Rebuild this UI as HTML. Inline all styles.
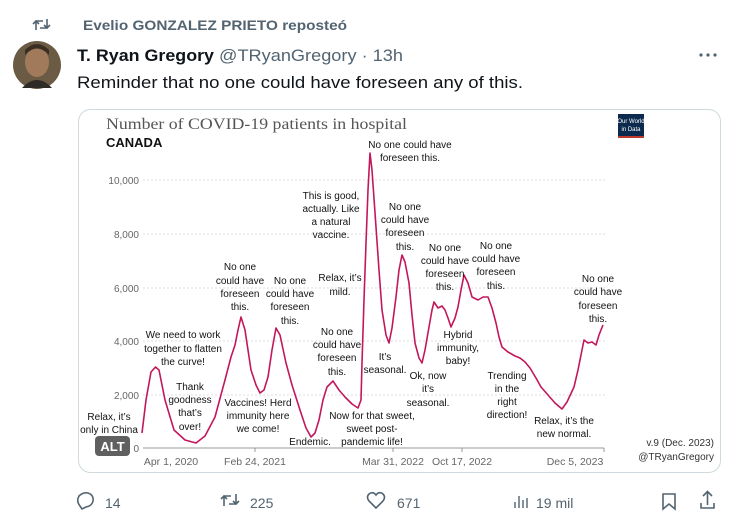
<!DOCTYPE html>
<html><head><meta charset="utf-8"><style>
html,body{margin:0;padding:0;background:#fff;width:736px;height:528px;overflow:hidden}
svg{display:block}
.a{font-family:"Liberation Sans",sans-serif;font-size:10px;fill:#111;text-anchor:middle}
.t{font-family:"Liberation Sans",sans-serif}
</style></head><body>
<svg width="736" height="528" viewBox="0 0 736 528" xmlns="http://www.w3.org/2000/svg">
<g fill="none" stroke="#536471" stroke-width="1.6">
<path d="M36 30v-9h7M33 24l3-3 3 3M47 19v9h-7M50 25l-3 3-3-3"/>
</g>
<text x="83" y="30" class="t" font-size="14" font-weight="bold" fill="#536471" textLength="264" lengthAdjust="spacingAndGlyphs">Evelio GONZALEZ PRIETO reposteó</text>
<circle cx="37" cy="65" r="24" fill="#6b5a44"/>
<ellipse cx="37" cy="62" rx="12" ry="15" fill="#a07a5a"/>
<path d="M22 88 Q37 72 52 88Z" fill="#2e2a26"/>
<path d="M25 55 Q37 42 49 55 L49 50 Q37 38 25 50Z" fill="#3a2e22"/>
<text x="77" y="61" class="t" font-size="17" font-weight="bold" fill="#0f1419" textLength="137" lengthAdjust="spacingAndGlyphs">T. Ryan Gregory</text>
<text x="219" y="61" class="t" font-size="17" fill="#536471" textLength="184" lengthAdjust="spacingAndGlyphs">@TRyanGregory · 13h</text>
<g fill="#536471"><circle cx="701" cy="55" r="1.6"/><circle cx="708" cy="55" r="1.6"/><circle cx="715" cy="55" r="1.6"/></g>
<text x="77" y="88" class="t" font-size="17" fill="#0f1419" textLength="446" lengthAdjust="spacingAndGlyphs">Reminder that no one could have foreseen any of this.</text>
<rect x="78.5" y="109.5" width="642" height="363" rx="12" fill="#fff" stroke="#cfd9de"/>
<text x="106" y="129" font-family="Liberation Serif,serif" font-size="16" fill="#555" textLength="301" lengthAdjust="spacingAndGlyphs">Number of COVID-19 patients in hospital</text>
<text x="106" y="147" class="t" font-size="13" font-weight="bold" fill="#111">CANADA</text>
<rect x="618" y="114" width="26" height="22" fill="#0b2a4e"/><rect x="618" y="136" width="26" height="2" fill="#c0392b"/>
<text x="631" y="123" class="t" font-size="6" fill="#fff" text-anchor="middle">Our World</text>
<text x="631" y="131" class="t" font-size="6" fill="#fff" text-anchor="middle">in Data</text>
<g stroke="#ddd" stroke-dasharray="2,2">
<line x1="143" y1="180" x2="605" y2="180"/><line x1="143" y1="234" x2="605" y2="234"/><line x1="143" y1="288" x2="605" y2="288"/><line x1="143" y1="341" x2="605" y2="341"/><line x1="143" y1="395" x2="605" y2="395"/>
</g>
<line x1="143" y1="448" x2="604" y2="448" stroke="#999"/>
<g class="t" font-size="10" fill="#666" text-anchor="end">
<text x="139" y="184">10,000</text><text x="139" y="238">8,000</text><text x="139" y="292">6,000</text><text x="139" y="345">4,000</text><text x="139" y="399">2,000</text><text x="139" y="452">0</text>
</g>
<g class="t" font-size="10.5" fill="#666" text-anchor="middle">
<text x="171" y="465">Apr 1, 2020</text><text x="255" y="465">Feb 24, 2021</text><text x="393" y="465">Mar 31, 2022</text><text x="462" y="465">Oct 17, 2022</text><text x="575" y="465">Dec 5, 2023</text>
</g>
<g stroke="#999"><line x1="255" y1="448" x2="255" y2="452"/><line x1="393" y1="448" x2="393" y2="452"/><line x1="462" y1="448" x2="462" y2="452"/><line x1="604" y1="448" x2="604" y2="452"/></g>
<path fill="none" stroke="#c2185b" stroke-width="1.6" stroke-linejoin="round" d="M142 433 L146 400 L151 372 L155.5 367 L159 370 L165 400 L174 430 L185 440 L196 443 L205 436 L215 417 L225 380 L231 357 L235 345 L238 330 L241 317 L245 330 L251 370 L256 385 L260 393 L264 390 L268 377 L272 350 L276 328 L280 335 L286 363 L292 385 L300 410 L306 428 L311 437 L315 433 L319 420 L323 400 L327 387 L333 381 L339 390 L345 397 L352 404 L358 408 L361 400 L362 363 L364 300 L366 243 L368 190 L370 153 L372 170 L376 227 L379 270 L382 310 L386 335 L389 343 L392 328 L396 297 L399 270 L402 255 L405 262 L409 283 L412 315 L415 343 L419 358 L422 363 L425 350 L429 327 L432 310 L434 302 L438 308 L442 306 L445 310 L448 318 L451 327 L455 318 L458 307 L461 290 L464 275 L468 283 L472 297 L478 300 L483 297 L488 297 L492 308 L496 323 L499 337 L502 347 L508 352 L515 356 L520 358 L525 362 L530 368 L536 378 L541 387 L548 395 L555 403 L562 409 L567 402 L574 387 L578 370 L582 350 L584 340 L588 343 L592 342 L596 345 L599 335 L603 325"/>
<g class="a">
<text x="109" y="420">Relax, it’s</text><text x="109" y="433">only in China</text>
<text x="183" y="338">We need to work</text><text x="183" y="352">together to flatten</text><text x="183" y="365">the curve!</text>
<text x="190" y="390">Thank</text><text x="190" y="403">goodness</text><text x="190" y="416">that’s</text><text x="190" y="430">over!</text>
<text x="240" y="270">No one</text><text x="240" y="284">could have</text><text x="240" y="297">foreseen</text><text x="240" y="310">this.</text>
<text x="290" y="284">No one</text><text x="290" y="297">could have</text><text x="290" y="310">foreseen</text><text x="290" y="324">this.</text>
<text x="258" y="406">Vaccines! Herd</text><text x="258" y="419">immunity here</text><text x="258" y="432">we come!</text>
<text x="310" y="445">Endemic.</text>
<text x="337" y="335">No one</text><text x="337" y="348">could have</text><text x="337" y="361">foreseen</text><text x="337" y="375">this.</text>
<text x="340" y="281">Relax, it’s</text><text x="340" y="295">mild.</text>
<text x="331" y="199">This is good,</text><text x="331" y="212">actually. Like</text><text x="331" y="225">a natural</text><text x="331" y="238">vaccine.</text>
<text x="372" y="419">Now for that sweet,</text><text x="372" y="432">sweet post-</text><text x="372" y="445">pandemic life!</text>
<text x="410" y="148">No one could have</text><text x="410" y="161">foreseen this.</text>
<text x="405" y="210">No one</text><text x="405" y="223">could have</text><text x="405" y="236">foreseen</text><text x="405" y="250">this.</text>
<text x="385" y="360">It’s</text><text x="385" y="373">seasonal.</text>
<text x="445" y="251">No one</text><text x="445" y="264">could have</text><text x="445" y="277">foreseen</text><text x="445" y="290">this.</text>
<text x="496" y="249">No one</text><text x="496" y="262">could have</text><text x="496" y="275">foreseen</text><text x="496" y="289">this.</text>
<text x="428" y="379">Ok, now</text><text x="428" y="392">it’s</text><text x="428" y="406">seasonal.</text>
<text x="458" y="338">Hybrid</text><text x="458" y="351">immunity,</text><text x="458" y="364">baby!</text>
<text x="507" y="379">Trending</text><text x="507" y="392">in the</text><text x="507" y="405">right</text><text x="507" y="418">direction!</text>
<text x="564" y="424">Relax, it’s the</text><text x="564" y="437">new normal.</text>
<text x="598" y="282">No one</text><text x="598" y="295">could have</text><text x="598" y="309">foreseen</text><text x="598" y="322">this.</text>
</g>
<text x="714" y="446" class="t" font-size="10" fill="#333" text-anchor="end">v.9 (Dec. 2023)</text>
<text x="714" y="460" class="t" font-size="10" fill="#333" text-anchor="end">@TRyanGregory</text>
<rect x="95" y="436" width="35" height="20" rx="4" fill="#444" opacity="0.85"/>
<text x="112.5" y="451" class="t" font-size="13" font-weight="bold" fill="#fff" text-anchor="middle">ALT</text>
<g fill="none" stroke="#536471" stroke-width="1.6">
<path d="M80 506 Q76 501 79 496 Q83 492 88 493 Q94 495 93 501 Q92 506 86 507 L82 509 Z"/>
<path d="M224 506v-10h7M221 499l3-3 3 3M236 494v10h-7M239 501l-3 3-3-3"/>
<path d="M376 508 L369 501 Q366 497 369 494 Q373 491 376 495 Q379 491 383 494 Q386 497 383 501 Z"/>
<path d="M515 508v-6M519 508v-12M523 508v-8M527 508v-10" stroke-width="1.4"/>
<path d="M663 494h12v15l-6-5-6 5z"/>
<path d="M701 503v5h13v-5M707.5 505v-13M703 496l4.5-4.5 4.5 4.5"/>
</g>
<g class="t" font-size="14" fill="#536471">
<text x="105" y="508">14</text><text x="250" y="508">225</text><text x="397" y="508">671</text><text x="536" y="508">19 mil</text>
</g>
</svg>
</body></html>
